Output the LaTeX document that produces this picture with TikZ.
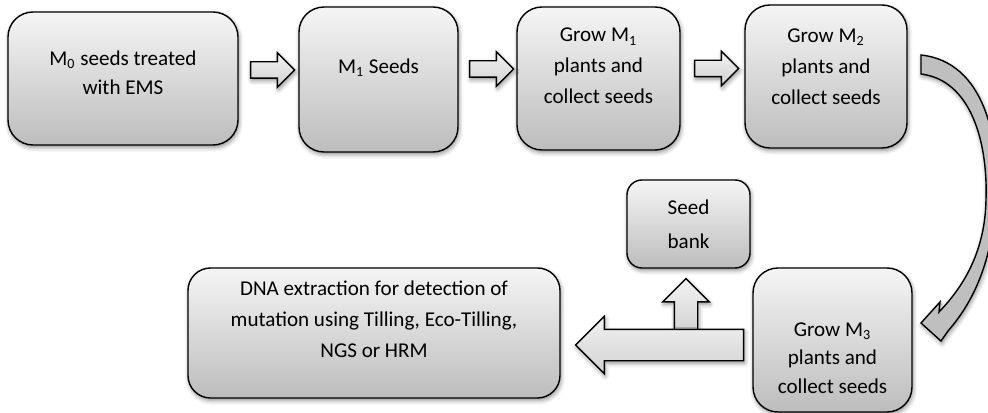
\documentclass[tikz,border=0pt]{standalone}
\usepackage{fontspec}
\setmainfont{Carlito}
\usetikzlibrary{calc,shapes.arrows,shadows.blur}

\begin{document}
\begin{tikzpicture}[
  softshadow/.style={blur shadow={shadow xshift=0.6pt, shadow yshift=-1.4pt, shadow blur radius=2.5pt, shadow opacity=45}},
  stepbox/.style={draw, line width=0.8pt, rounded corners=0.5cm, top color=black!4, bottom color=black!26, softshadow},
  steptext/.style={align=center, inner sep=0pt, font=\fontsize{12}{17.6}\selectfont},
  blockarrow/.style={single arrow, draw, line width=0.8pt, single arrow head indent=0pt, top color=black!5, bottom color=black!18, softshadow}]

\useasboundingbox (0,0) rectangle (19.76,-8.26);

% top row
\node[stepbox, minimum width=4.6cm, minimum height=2.66cm] (m0) at (2.46,-1.57) {};
\node[stepbox, minimum width=3.18cm, minimum height=2.9cm] (m1) at (7.57,-1.59) {};
\node[stepbox, minimum width=3.26cm, minimum height=2.86cm] (g1) at (11.97,-1.57) {};
\node[stepbox, minimum width=3.24cm, minimum height=2.86cm] (g2) at (16.52,-1.53) {};

\node[steptext, font=\fontsize{12}{16.6}\selectfont] (m0txt) at ([yshift=0.12cm]m0.center) {M\textsubscript{0} seeds treated\\with EMS};
\node[steptext] (m1txt) at ([yshift=0.23cm]m1.center) {M\textsubscript{1} Seeds};
\node[steptext] (g1txt) at ([yshift=0.25cm]g1.center) {Grow M\textsubscript{1}\\plants and\\collect seeds};
\node[steptext] (g2txt) at ([yshift=0.19cm]g2.center) {Grow M\textsubscript{2}\\plants and\\collect seeds};

% bottom row
\node[stepbox, rounded corners=0.3cm, minimum width=2.46cm, minimum height=1.76cm] (sb) at (13.77,-4.48) {};
\node[stepbox, minimum width=3.18cm, minimum height=2.88cm] (g3) at (16.65,-6.80) {};
\node[stepbox, rounded corners=0.45cm, minimum width=7.44cm, minimum height=2.6cm] (dna) at (7.48,-6.66) {};

\node[steptext, font=\fontsize{12}{19.4}\selectfont] (sbtxt) at (sb.center) {Seed\\bank};
\node[steptext, font=\fontsize{12}{16.2}\selectfont] (g3txt) at ([yshift=-0.36cm]g3.center) {Grow M\textsubscript{3}\\plants and\\collect seeds};
\node[steptext] (dnatxt) at ([yshift=0.28cm]dna.center) {DNA extraction for detection of\\mutation using Tilling, Eco-Tilling,\\NGS or HRM};

% block arrows (inner sep gives half the shaft width)
\node[blockarrow, inner sep=0.15cm, minimum height=0.88cm, single arrow head extend=0.18cm] (a1) at ($(m0.east)!0.5!(m1.west)+(0,0.18)$) {};
\node[blockarrow, inner sep=0.15cm, minimum height=0.88cm, single arrow head extend=0.18cm] (a2) at ($(m1.east)!0.5!(g1.west)+(0,0.2)$) {};
\node[blockarrow, inner sep=0.15cm, minimum height=0.88cm, single arrow head extend=0.18cm] (a3) at ($(g1.east)!0.5!(g2.west)+(0,0.18)$) {};

\node[blockarrow, shape border rotate=90, anchor=tip, inner sep=0.22cm, minimum height=1.1cm, single arrow head extend=0.23cm] (up) at ([xshift=-0.05cm,yshift=-0.18cm]sb.south) {};
\node[blockarrow, shape border rotate=180, anchor=tail, inner sep=0.3cm, minimum height=3.36cm, single arrow head extend=0.26cm] (left) at ([xshift=-0.16cm,yshift=-0.1cm]g3.west) {};

% curved arrow from M2 down to M3
\draw[line width=0.8pt, fill=black!25, softshadow]
  (18.42,-1.10) .. controls (19.70,-1.24) and (20.00,-2.80) .. (19.92,-4.00)
  .. controls (19.84,-5.20) and (19.50,-6.00) .. (18.96,-6.62)
  -- (18.82,-6.82) -- (18.42,-6.46) -- (18.80,-6.04) -- (18.78,-6.24)
  .. controls (19.30,-5.70) and (19.70,-5.00) .. (19.72,-4.00)
  .. controls (19.76,-2.80) and (19.40,-1.60) .. (18.42,-1.48) -- cycle;

\end{tikzpicture}
\end{document}
